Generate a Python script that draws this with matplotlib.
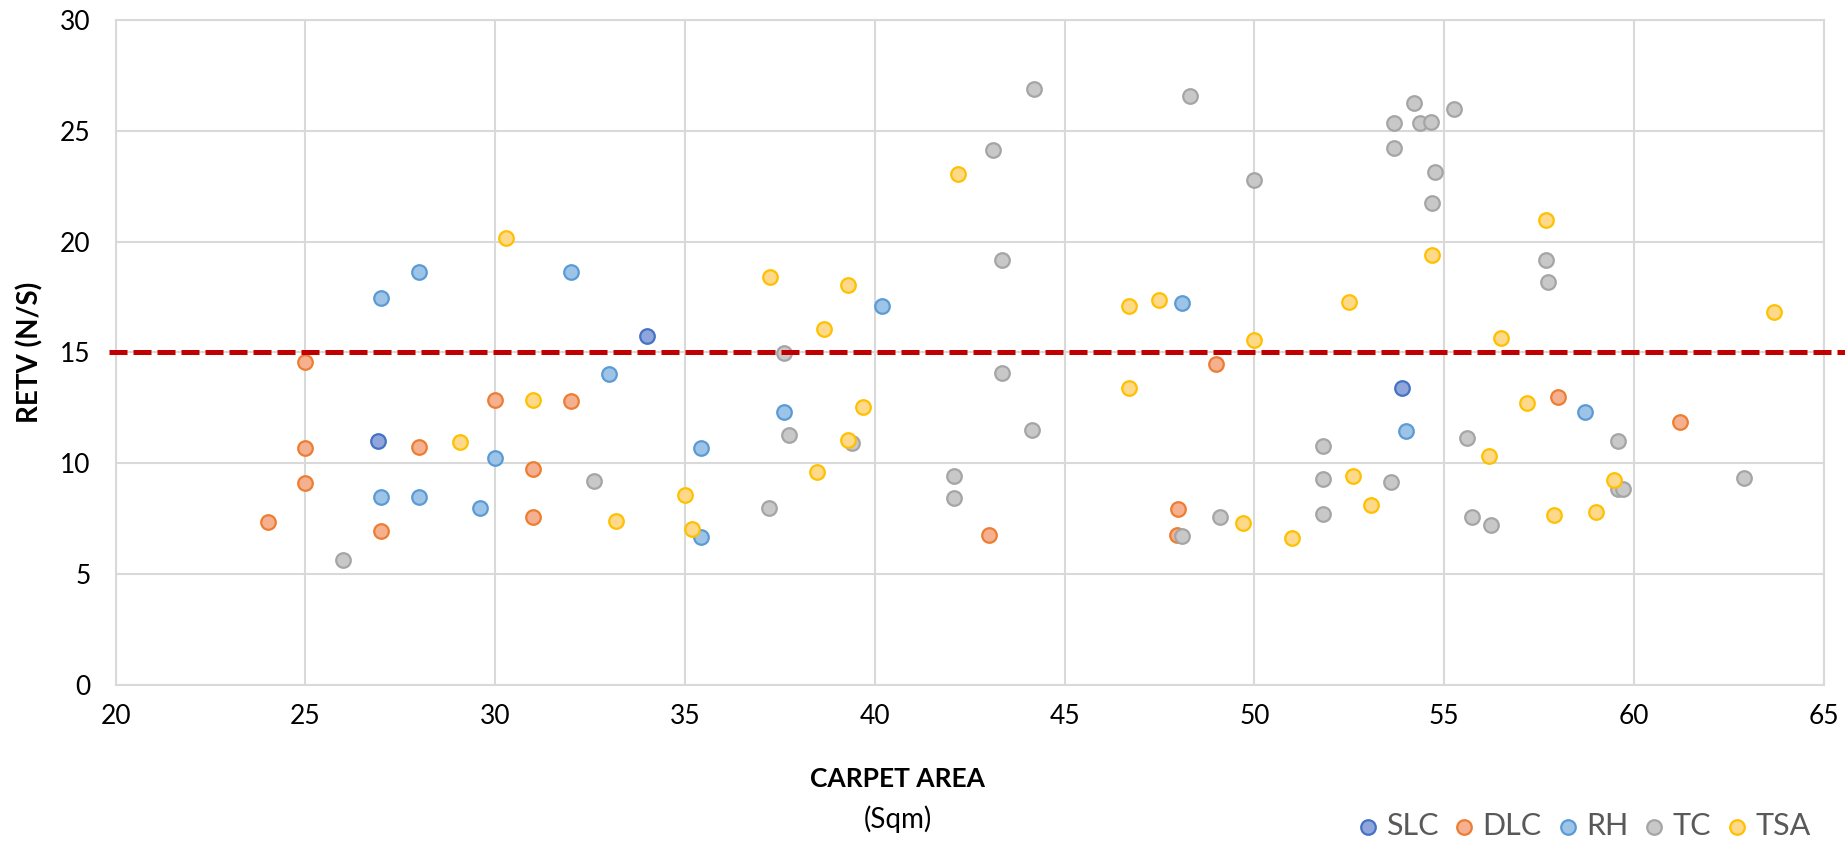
import matplotlib
matplotlib.use("Agg")
import matplotlib.pyplot as plt

plt.rcParams['font.family'] = ['Lato', 'DejaVu Sans']

series_names = ['SLC', 'DLC', 'RH', 'TC', 'TSA']

slc_x = [26.9, 34.0, 53.88]
slc_y = [11.02, 15.76, 13.41]

dlc_x = [25, 30, 25, 25, 28, 24, 27, 31, 31, 32, 43, 48, 47.95, 49, 58, 61.2]
dlc_y = [14.56, 12.86, 10.71, 9.13, 10.74, 7.34, 6.95, 9.74, 7.58, 12.83, 6.77, 7.92, 6.77, 14.5, 12.98, 11.88]

rh_x = [27, 28, 30, 27, 28, 29.6, 32, 33, 37.6, 40.2, 35.43, 35.43, 48.1, 54, 58.7]
rh_y = [17.47, 18.63, 10.23, 8.48, 8.48, 7.97, 18.62, 14.03, 12.33, 17.1, 10.68, 6.69, 17.22, 11.47, 12.33]

tc_x = [26, 37.6, 37.75, 39.4, 32.6, 37.2, 44.2, 43.1, 48.3, 53.67, 53.67, 50.0, 43.36,
        43.36, 44.13, 42.08, 42.08, 48.1, 49.1, 51.8, 51.8, 51.8, 53.6, 54.2, 54.37,
        54.64, 55.25, 54.76, 54.69, 57.69, 57.73, 55.61, 59.58, 55.73, 56.24, 59.58, 59.7, 62.9]
tc_y = [5.65, 14.98, 11.29, 10.93, 9.22, 7.97, 26.87, 24.12, 26.59, 25.34, 24.23, 22.8, 19.17,
        14.08, 11.49, 9.43, 8.44, 6.74, 7.58, 10.8, 9.31, 7.73, 9.14, 26.26, 25.34,
        25.38, 25.98, 23.14, 21.74, 19.17, 18.18, 11.16, 11.01, 7.59, 7.2, 8.84, 8.84, 9.35]

tsa_x = [29.08, 30.28, 37.24, 39.28, 38.67, 31, 39.68, 39.28, 38.48, 35.0, 33.18, 35.19,
         42.19, 46.69, 47.49, 52.49, 50.0, 46.69, 49.69, 51.0, 52.59, 53.08, 57.69, 54.69,
         63.69, 56.49, 57.19, 56.19, 57.89, 58.99, 59.48]
tsa_y = [10.98, 20.18, 18.42, 18.03, 16.05, 12.86, 12.54, 11.04, 9.62, 8.57, 7.4, 7.02,
         23.04, 17.11, 17.38, 17.26, 15.56, 13.38, 7.29, 6.63, 9.41, 8.13, 20.96, 19.41,
         16.81, 15.67, 12.72, 10.33, 7.67, 7.82, 9.25]

threshold = 15

edge_colors = ['#4472C4', '#ED7D31', '#5B9BD5', '#A5A5A5', '#FFC000']
fill_colors = ['#8FA5DB', '#F4B08F', '#9DC3E6', '#C8C8C8', '#FFD98A']

fig = plt.figure(figsize=(18.45, 8.44), dpi=100)
ax = fig.add_axes([0.0627, 0.1884, 0.9258, 0.7879])

data = [(slc_x, slc_y), (dlc_x, dlc_y), (rh_x, rh_y), (tc_x, tc_y), (tsa_x, tsa_y)]
for (xs, ys), name, ec, fc in zip(data, series_names, edge_colors, fill_colors):
    ax.scatter(xs, ys, s=110, facecolor=fc, edgecolor=ec, linewidths=1.6, label=name, zorder=3)

ax.axhline(threshold, xmin=-0.004, xmax=1.013, color='#C00000', linewidth=3.6,
           dashes=(3.6, 1.2), clip_on=False, zorder=5)

ax.set_xlim(20, 65)
ax.set_ylim(0, 30)
ax.set_xticks(range(20, 66, 5))
ax.set_yticks(range(0, 31, 5))
ax.grid(True, color='#D9D9D9', linewidth=1.5)
ax.set_axisbelow(True)
for sp in ax.spines.values():
    sp.set_color('#D9D9D9')
    sp.set_linewidth(1.5)
ax.tick_params(length=0, labelsize=19, colors='black')
ax.tick_params(axis='x', pad=14)
ax.tick_params(axis='y', pad=18)

# axis titles placed like the original (x title sits left of centre)
fig.text(30 / 1845, 1 - 352 / 844, 'RETV (N/S)', fontsize=20, fontweight='bold',
         rotation=90, ha='center', va='center')
fig.text(898 / 1845, 1 - 779 / 844, 'CARPET AREA', fontsize=19, fontweight='bold',
         ha='center', va='center')
fig.text(898 / 1845, 1 - 819 / 844, '(Sqm)', fontsize=20, ha='center', va='center')

fig.legend(loc='center right', bbox_to_anchor=(1826 / 1845, 1 - 826 / 844), ncol=5,
           frameon=False, fontsize=22, handlelength=0.6, handletextpad=0.3,
           columnspacing=0.55, borderpad=0, labelcolor='#595959')

fig.savefig('out.png', dpi=100)
